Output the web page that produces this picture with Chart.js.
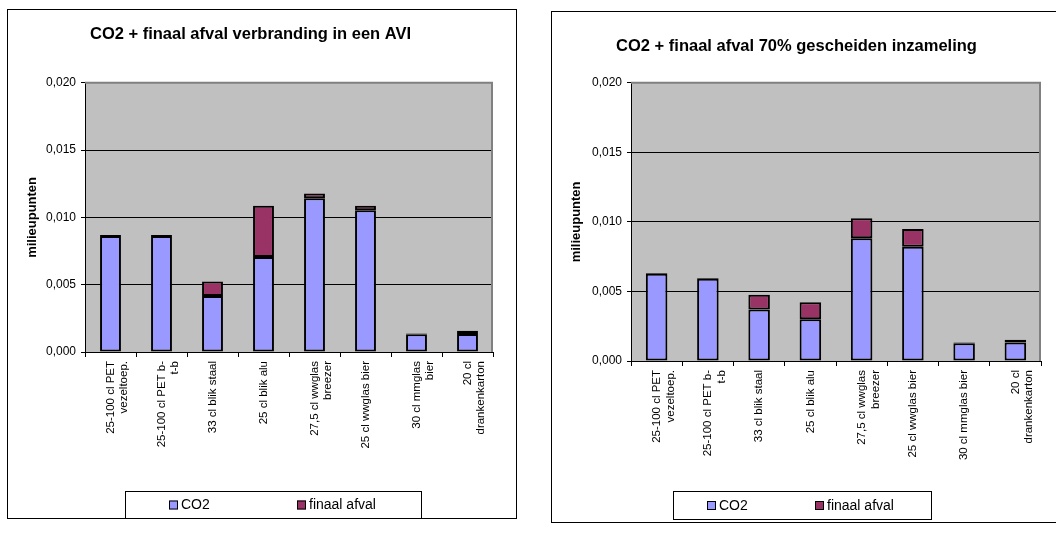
<!DOCTYPE html>
<html>
<head>
<meta charset="utf-8">
<script src="https://cdn.jsdelivr.net/npm/chart.js@4.4.1/dist/chart.umd.min.js"></script>
<style>
  body { margin: 0; background: #fff; overflow: hidden; width: 1056px; height: 541px; position: relative; }
  .box { position: absolute; border: 1px solid #000; box-sizing: border-box; background: #fff; }
  canvas { display: block; }
</style>
</head>
<body>
<div class="box" id="boxA" style="left:7px; top:9px; width:510px; height:510px;">
  <canvas id="chartA" width="508" height="508"></canvas>
</div>
<div class="box" id="boxB" style="left:551px; top:11px; width:512px; height:512px;">
  <canvas id="chartB" width="510" height="510"></canvas>
</div>
<script>
const labelsAvi = [
    ['25-100 cl PET', 'vezeltoep.'],
    ['25-100 cl PET b-', 't-b'],
    '33 cl blik staal',
    '25 cl blik alu',
    ['27,5 cl wwglas', 'breezer'],
    '25 cl wwglas bier',
    ['30 cl mmglas', 'bier'],
    ['20 cl', 'drankenkarton']
];
const labelsGescheiden = [
    ['25-100 cl PET', 'vezeltoep.'],
    ['25-100 cl PET b-', 't-b'],
    '33 cl blik staal',
    '25 cl blik alu',
    ['27,5 cl wwglas', 'breezer'],
    '25 cl wwglas bier',
    '30 cl mmglas bier',
    ['20 cl', 'drankenkarton']
];

const co2Avi = [0.00862, 0.00862, 0.00416, 0.00705, 0.01143, 0.01054, 0.00132, 0.00134];
const afvalAvi = [0.00007, 0.00007, 0.00107, 0.00381, 0.00035, 0.00032, 0.00005, 0.00023];

const co2Gescheiden = [0.00628, 0.00592, 0.00370, 0.00300, 0.00882, 0.00821, 0.00128, 0.00133];
const afvalGescheiden = [0.00005, 0.00005, 0.00106, 0.00123, 0.00145, 0.00128, 0.00005, 0.00019];

const yMin = 0;
const yMax = 0.020;
const yStep = 0.005;

const FONT = 'Arial, "Liberation Sans", sans-serif';

// grey plot area + grey top/right frame
const plotBackground = {
    id: 'plotBackground',
    beforeDraw(chart) {
        const { ctx, chartArea: a } = chart;
        ctx.save();
        ctx.fillStyle = '#c0c0c0';
        ctx.fillRect(a.left, a.top, a.right - a.left, a.bottom - a.top);
        ctx.restore();
    },
    beforeDatasetsDraw(chart) {
        const { ctx, chartArea: a } = chart;
        ctx.save();
        ctx.strokeStyle = '#808080';
        ctx.lineWidth = 2;
        ctx.beginPath();
        ctx.moveTo(a.left, a.top);
        ctx.lineTo(a.right - 1, a.top);
        ctx.lineTo(a.right - 1, a.bottom);
        ctx.stroke();
        ctx.restore();
    }
};

// Excel-style legend in a framed box
const boxedLegend = {
    id: 'boxedLegend',
    afterDraw(chart, args, opts) {
        const { ctx } = chart;
        const b = opts.box;
        ctx.save();
        ctx.fillStyle = '#fff';
        ctx.fillRect(b.x, b.y, b.w, b.h);
        ctx.strokeStyle = '#000';
        ctx.lineWidth = 1;
        ctx.strokeRect(b.x + 0.5, b.y + 0.5, b.w, b.h);
        ctx.font = '14px ' + FONT;
        ctx.textBaseline = 'middle';
        const cy = b.y + b.h / 2 + 1;
        chart.data.datasets.forEach((ds, i) => {
            const x = opts.items[i];
            ctx.fillStyle = ds.backgroundColor;
            ctx.fillRect(x, cy - 5, 9, 9);
            ctx.strokeStyle = '#000';
            ctx.strokeRect(x + 0.5, cy - 4.5, 8, 8);
            ctx.fillStyle = '#000';
            ctx.fillText(ds.label, x + 12, cy);
        });
        ctx.restore();
    }
};

function makeChart(id, title, labels, co2, afval, g) {
    return new Chart(document.getElementById(id), {
        type: 'bar',
        data: {
            labels: labels,
            datasets: [
                {
                    label: 'CO2',
                    data: co2,
                    backgroundColor: '#9999ff',
                    borderColor: '#000',
                    borderWidth: 2,
                    borderSkipped: false,
                    categoryPercentage: 1,
                    barPercentage: g.barPct
                },
                {
                    label: 'finaal afval',
                    data: afval,
                    backgroundColor: '#993366',
                    borderColor: '#000',
                    borderWidth: 2,
                    borderSkipped: false,
                    categoryPercentage: 1,
                    barPercentage: g.barPct
                }
            ]
        },
        options: {
            responsive: false,
            animation: false,
            layout: { padding: { left: 0, right: g.right, top: 0, bottom: g.bottom } },
            plugins: {
                legend: { display: false },
                tooltip: { enabled: false },
                title: {
                    display: true,
                    text: title,
                    color: '#000',
                    font: { family: FONT, size: 16.5, weight: 'bold' },
                    padding: { top: g.titleTop, bottom: g.titleBottom }
                },
                boxedLegend: { box: g.legendBox, items: g.legendItems }
            },
            scales: {
                x: {
                    stacked: true,
                    afterFit(scale) { scale.height = 130; },
                    border: { color: '#000', width: 1 },
                    grid: {
                        offset: true,
                        drawOnChartArea: false,
                        color: '#000',
                        tickLength: 5
                    },
                    ticks: {
                        color: '#000',
                        font: { family: FONT, size: 11.5 },
                        minRotation: 90,
                        maxRotation: 90,
                        autoSkip: false,
                        padding: 4
                    }
                },
                y: {
                    stacked: true,
                    min: yMin,
                    max: yMax,
                    afterFit(scale) { scale.width = g.yWidth; },
                    border: { color: '#000', width: 1 },
                    grid: {
                        color: (c) => (c.tick && c.tick.value >= yMax ? 'rgba(0,0,0,0)' : '#000'),
                        tickColor: '#000',
                        tickLength: 4
                    },
                    ticks: {
                        stepSize: yStep,
                        color: '#000',
                        padding: 5,
                        font: { family: FONT, size: 12 },
                        callback: (v) => v.toFixed(3).replace('.', ',')
                    },
                    title: {
                        display: true,
                        text: 'milieupunten',
                        color: '#000',
                        font: { family: FONT, size: 13, weight: 'bold' },
                        padding: { top: 17, bottom: 0 }
                    }
                }
            }
        },
        plugins: [plotBackground, boxedLegend]
    });
}

makeChart('chartA', 'CO2 + finaal afval verbranding in een AVI', labelsAvi, co2Avi, afvalAvi, {
    barPct: 0.41,
    yWidth: 77,
    right: 23,
    bottom: 36,
    titleTop: 15,
    titleBottom: 38,
    legendBox: { x: 117, y: 481, w: 296, h: 27 },
    legendItems: [161, 289]
});

makeChart('chartB', 'CO2 + finaal afval 70% gescheiden inzameling', labelsGescheiden, co2Gescheiden, afvalGescheiden, {
    barPct: 0.42,
    yWidth: 79,
    right: 21,
    bottom: 31,
    titleTop: 25,
    titleBottom: 26,
    legendBox: { x: 121, y: 479, w: 258, h: 28 },
    legendItems: [155, 263]
});
</script>
</body>
</html>
